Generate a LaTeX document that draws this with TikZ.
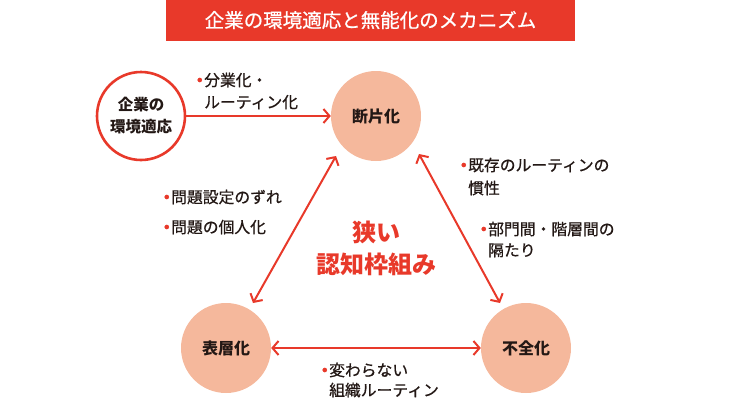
\documentclass[tikz,border=0pt]{standalone}
\usepackage{fontspec}
\setmainfont{Noto Sans CJK JP}
\newfontfamily\jpmed{Noto Sans CJK JP}[FakeBold=0.7]
\usetikzlibrary{arrows.meta,calc}
\definecolor{accent}{HTML}{E8392A}
\definecolor{salmon}{HTML}{F5B89C}
\definecolor{ink}{HTML}{231815}
\newcommand{\rbul}{\llap{\textcolor{accent}{\bfseries ・}\kern-3.5pt}}
\tikzset{
  hub/.style={circle,fill=salmon,minimum size=90pt,inner sep=0pt,text=ink,font=\fontsize{16}{18}\selectfont\bfseries},
  srcnode/.style={circle,draw=accent,line width=2.6pt,fill=white,minimum size=88pt,inner sep=0pt,text=ink,align=center,font=\fontsize{15.5}{22}\selectfont\bfseries},
  lbl/.style={anchor=base west,inner sep=0pt,align=left,text=ink},
  arr/.style={draw=accent,line width=2pt,-{Straight Barb[length=6pt,width=14pt]}},
  darr/.style={draw=accent,line width=2pt,{Straight Barb[length=6pt,width=14pt]}-{Straight Barb[length=6pt,width=14pt]}}
}
\begin{document}
\begin{tikzpicture}[x=1pt,y=-1pt]
\useasboundingbox (0,0) rectangle (750,400);
\fill[accent] (166,0) rectangle (575,41);
\node[text=white,font=\jpmed\fontsize{19.5}{22}\selectfont] (title) at (370.5,20) {企業の環境適応と無能化のメカニズム};

\node[srcnode] (kigyo) at (141,116) {企業の\\環境適応};
\node[hub] (dan) at (376,116) {断片化};
\node[hub] (hyo) at (226,348) {表層化};
\node[hub] (fuz) at (526,348) {不全化};

\coordinate (d1) at ($(dan)+(-40,40)$);
\coordinate (h1) at ($(hyo)+(27,-45)$);
\coordinate (d2) at ($(dan)+(43,38)$);
\coordinate (f1) at ($(fuz)+(-26,-45)$);

\draw[arr] (kigyo) -- (dan);
\draw[darr] (d1) -- (h1);
\draw[darr] (d2) -- (f1);
\draw[darr] (hyo) -- (fuz);

\node[lbl,font=\jpmed\fontsize{15.8}{22}\selectfont] (l1) at (204,108) {\rbul 分業化・\\ルーティン化};
\node[lbl,font=\jpmed\fontsize{15.8}{23}\selectfont] (l2) at (468,194) {\rbul 既存のルーティンの\\慣性};
\node[lbl,font=\jpmed\fontsize{15.8}{21}\selectfont] (l3) at (488,256) {\rbul 部門間・階層間の\\隔たり};
\node[lbl,font=\jpmed\fontsize{15.8}{30}\selectfont] (l4) at (171,233) {\rbul 問題設定のずれ\\\rbul 問題の個人化};
\node[lbl,font=\jpmed\fontsize{15.8}{20}\selectfont] (l5) at (329,396) {\rbul 変わらない\\組織ルーティン};

\node[text=accent,align=center,inner sep=0pt,font=\fontsize{24}{32}\selectfont\bfseries] (core) at (376,248) {狭い\\認知枠組み};
\end{tikzpicture}
\end{document}
